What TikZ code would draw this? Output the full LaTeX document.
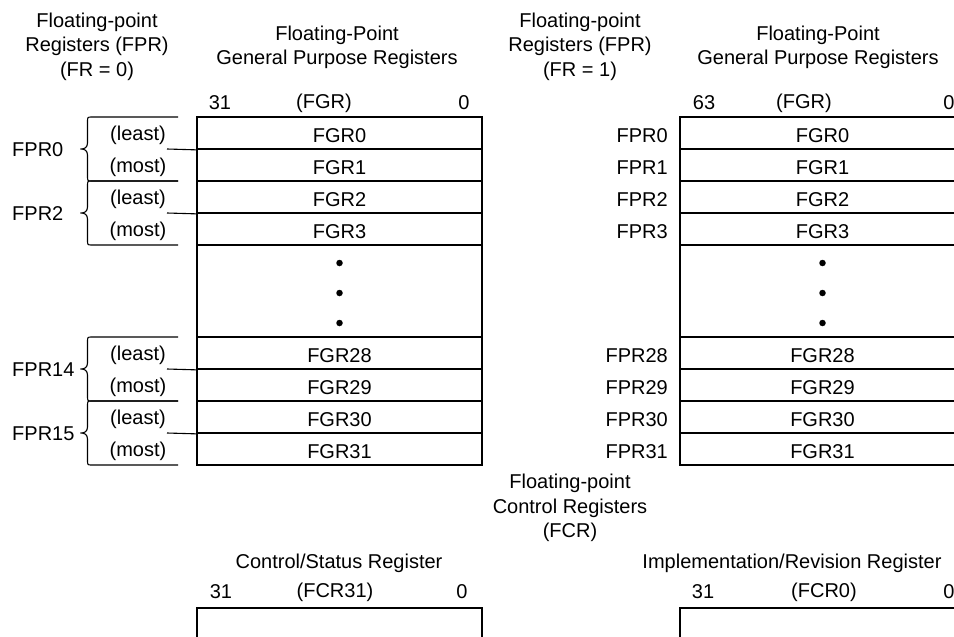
\documentclass[tikz,border=0pt]{standalone}
\usepackage{fontspec}
\setmainfont{Liberation Sans}
\newcommand\fprbrace[3]{%
  \draw[brk] (178,#1) -- (92,#1) .. controls (87.5,#1) .. (87.5,#1+5) -- (87.5,#2-6)
    .. controls (87.5,#2-1) and (84,#2) .. (80.5,#2) .. controls (84,#2) and (87.5,#2+1) .. (87.5,#2+6)
    -- (87.5,#3-5) .. controls (87.5,#3) .. (92,#3) -- (178,#3);}
\begin{document}
\begin{tikzpicture}[x=1pt,y=-1pt,
  lbl/.style={font=\fontsize{20}{24.5}\selectfont, inner sep=0pt, align=center},
  rowlbl/.style={lbl, yshift=-2.5pt},
  cell/.style={draw, line width=1.7pt, minimum width=285pt, minimum height=32pt,
               inner sep=0pt, text height=19pt, text depth=0pt,
               font=\fontsize{20}{24.5}\selectfont},
  brk/.style={line width=1.1pt},
  dot/.style={circle, fill, inner sep=0pt, minimum size=6.5pt}]
\useasboundingbox (0,0) rectangle (954,637);
\clip (0,0) rectangle (954,637);

% headers
\node[lbl] (hl1) at (97,46.5) {Floating-point\\Registers (FPR)\\(FR = 0)};
\node[lbl] (hl2) at (337,47.5) {Floating-Point\\General Purpose Registers};
\node[lbl] (bl31) at (220,103) {31};
\node[lbl] (blf) at (324,103) {(FGR)};
\node[lbl] (bl0) at (464,103) {0};
\node[lbl] (hr1) at (580,46.5) {Floating-point\\Registers (FPR)\\(FR = 1)};
\node[lbl] (hr2) at (818,47.5) {Floating-Point\\General Purpose Registers};
\node[lbl] (br63) at (704,103) {63};
\node[lbl] (brf) at (804,103) {(FGR)};
\node[lbl] (br0) at (949,103) {0};

% left register file
\node[cell] (l0) at (339.5,133) {FGR0};
\node[cell] (l1) at (339.5,165) {FGR1};
\node[cell] (l2) at (339.5,197) {FGR2};
\node[cell] (l3) at (339.5,229) {FGR3};
\node[cell, minimum height=92pt] (ld) at (339.5,291) {};
\node[cell] (l28) at (339.5,353) {FGR28};
\node[cell] (l29) at (339.5,385) {FGR29};
\node[cell] (l30) at (339.5,417) {FGR30};
\node[cell] (l31) at (339.5,449) {FGR31};
\node[dot] (ld1) at (339.5,263) {};
\node[dot] (ld2) at (339.5,293) {};
\node[dot] (ld3) at (339.5,323) {};

% right register file
\node[cell] (r0) at (822.5,133) {FGR0};
\node[cell] (r1) at (822.5,165) {FGR1};
\node[cell] (r2) at (822.5,197) {FGR2};
\node[cell] (r3) at (822.5,229) {FGR3};
\node[cell, minimum height=92pt] (rd) at (822.5,291) {};
\node[cell] (r28) at (822.5,353) {FGR28};
\node[cell] (r29) at (822.5,385) {FGR29};
\node[cell] (r30) at (822.5,417) {FGR30};
\node[cell] (r31) at (822.5,449) {FGR31};
\node[dot] (rd1) at (822.5,263) {};
\node[dot] (rd2) at (822.5,293) {};
\node[dot] (rd3) at (822.5,323) {};

% FR=1 labels
\node[rowlbl, anchor=east] (q0) at (668,133) {FPR0};
\node[rowlbl, anchor=east] (q1) at (668,165) {FPR1};
\node[rowlbl, anchor=east] (q2) at (668,197) {FPR2};
\node[rowlbl, anchor=east] (q3) at (668,229) {FPR3};
\node[rowlbl, anchor=east] (q28) at (668,353) {FPR28};
\node[rowlbl, anchor=east] (q29) at (668,385) {FPR29};
\node[rowlbl, anchor=east] (q30) at (668,417) {FPR30};
\node[rowlbl, anchor=east] (q31) at (668,449) {FPR31};

% FR=0 braces and labels
\fprbrace{117}{149}{181}
\fprbrace{181}{213}{245}
\fprbrace{337}{369}{401}
\fprbrace{401}{433}{465}
\draw[brk] (167,149) -- (l0.south west);
\draw[brk] (167,213) -- (l2.south west);
\draw[brk] (167,369) -- (l28.south west);
\draw[brk] (167,433) -- (l30.south west);
\node[lbl, anchor=west, yshift=-1pt] (p0) at (12,149) {FPR0};
\node[lbl, anchor=west, yshift=-1pt] (p2) at (12,213) {FPR2};
\node[lbl, anchor=west, yshift=-1pt] (p14) at (12,369) {FPR14};
\node[lbl, anchor=west, yshift=-1pt] (p15) at (12,433) {FPR15};
\foreach \y/\n in {133/a,197/b,353/c,417/d}{
  \node[rowlbl] (le\n) at (138,\y) {(least)};}
\foreach \y/\n in {165/a,229/b,385/c,449/d}{
  \node[rowlbl] (mo\n) at (138,\y) {(most)};}

% control registers
\node[lbl] (fcr) at (570,508) {Floating-point\\Control Registers\\(FCR)};
\node[lbl] (csr) at (339,563) {Control/Status Register};
\node[lbl] (c31) at (221,592) {31};
\node[lbl] (cf) at (335,592) {(FCR31)};
\node[lbl] (c0) at (462,592) {0};
\node[cell, minimum height=60pt] (cbox) at (339.5,638) {};
\node[lbl] (irr) at (792,563) {Implementation/Revision Register};
\node[lbl] (i31) at (703,592) {31};
\node[lbl] (if) at (824,592) {(FCR0)};
\node[lbl] (i0) at (949,592) {0};
\node[cell, minimum height=60pt] (ibox) at (822.5,638) {};
\end{tikzpicture}
\end{document}
